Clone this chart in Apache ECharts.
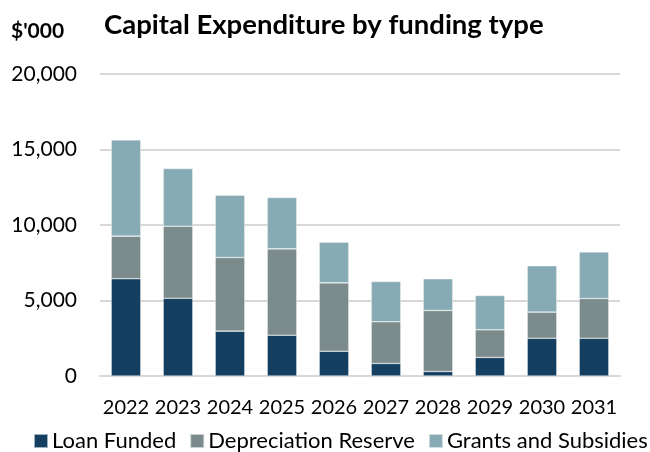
<!DOCTYPE html>
<html>
<head>
<meta charset="utf-8">
<script src="https://cdn.jsdelivr.net/npm/echarts@6/dist/echarts.min.js"></script>
<style>
  html, body { margin: 0; padding: 0; background: #fff; }
  #chart { width: 650px; height: 452px; }
</style>
</head>
<body>
<div id="chart"></div>
<script>
// Capital expenditure by funding type, $'000
const years = ['2022', '2023', '2024', '2025', '2026', '2027', '2028', '2029', '2030', '2031'];
const loanFunded = [6440, 5150, 2970, 2700, 1640, 830, 300, 1230, 2500, 2500];
const depreciationReserve = [2820, 4770, 4880, 5720, 4530, 2760, 4040, 1830, 1730, 2630];
const grantsAndSubsidies = [6380, 3820, 4120, 3400, 2690, 2670, 2100, 2270, 3070, 3090];
const yTicks = [0, 5000, 10000, 15000, 20000];

const FONT = 'Lato, "Open Sans", sans-serif';
const colors = ['#143f60', '#7b8b8c', '#86abb5'];

function barSeries(name, data, color) {
  return {
    name: name,
    type: 'bar',
    stack: 'total',
    data: data,
    barWidth: '57%',
    itemStyle: { color: color, borderColor: 'rgba(255,255,255,0.6)', borderWidth: 0.6 },
    emphasis: { disabled: true }
  };
}

const chart = echarts.init(document.getElementById('chart'), null, { renderer: 'canvas' });
chart.setOption({
  animation: false,
  color: colors,
  title: [
    {
      text: 'Capital Expenditure by funding type',
      left: 99, top: 6,
      textStyle: { fontFamily: FONT, fontWeight: 'bold', fontSize: 27.5, color: '#000' }
    },
    {
      text: "$'000",
      left: 6, top: 16,
      textStyle: { fontFamily: FONT, fontWeight: 'bold', fontSize: 21, color: '#000' }
    }
  ],
  grid: { left: 100, right: 30, top: 74, bottom: 76, containLabel: false },
  legend: {
    top: 425, left: 28, width: 660,
    itemWidth: 14, itemHeight: 14, itemGap: 13,
    icon: 'rect',
    textStyle: { fontFamily: FONT, fontSize: 22, color: '#000', padding: [0, 0, 0, -1] },
    data: ['Loan Funded', 'Depreciation Reserve', 'Grants and Subsidies']
  },
  xAxis: {
    type: 'category',
    data: years,
    axisLine: { show: true, lineStyle: { color: '#d9d9d9', width: 2 } },
    axisTick: { show: false },
    axisLabel: { interval: 0, hideOverlap: false, fontFamily: FONT, fontSize: 20, color: '#000', margin: 22 }
  },
  yAxis: {
    type: 'value',
    min: yTicks[0], max: yTicks[yTicks.length - 1], interval: yTicks[1] - yTicks[0],
    axisLine: { show: false },
    axisTick: { show: false },
    splitLine: { lineStyle: { color: '#d9d9d9', width: 2 } },
    axisLabel: {
      fontFamily: FONT, fontSize: 21, color: '#000', margin: 23,
      formatter: v => v.toLocaleString('en-US')
    }
  },
  series: [
    barSeries('Loan Funded', loanFunded, colors[0]),
    barSeries('Depreciation Reserve', depreciationReserve, colors[1]),
    barSeries('Grants and Subsidies', grantsAndSubsidies, colors[2])
  ]
});
</script>
</body>
</html>
